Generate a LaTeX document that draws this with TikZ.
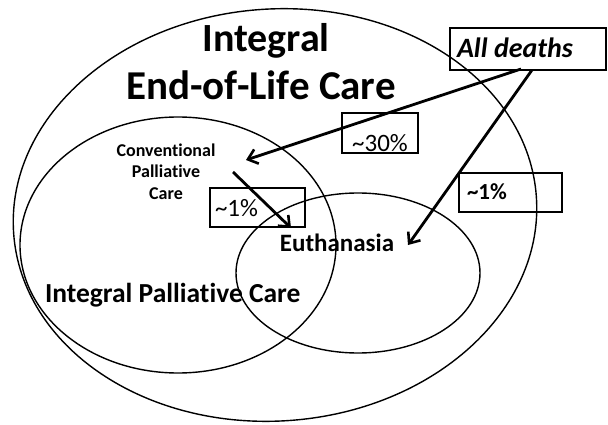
\documentclass[tikz,border=0pt]{standalone}
\usepackage{fontspec}
\setmainfont{Carlito}[Ligatures=NoCommon]
\usetikzlibrary{arrows.meta}
\tikzset{
  ring/.style={draw=black, line width=1.4pt},
  pbox/.style={draw=black, line width=1.3pt, fill=none},
  bigarrow/.style={line width=2.8pt, -{Straight Barb[length=9pt,width=15pt,line width=2.6pt]}},
  txt/.style={inner sep=0pt, outer sep=0pt},
}
\newcommand{\fsz}[2]{\fontsize{#1}{#2}\selectfont}
\begin{document}
\begin{tikzpicture}[x=1pt,y=-1pt]
\useasboundingbox (0,0) rectangle (608,425);
% circles
\draw[ring, rotate around={4:(275,215)}] (275,215) ellipse [x radius=262, y radius=206];
\draw[ring] (178,245) ellipse [x radius=158, y radius=128];
\draw[ring] (358,273) ellipse [x radius=122, y radius=80];
% boxes
\draw[pbox] (450,28) rectangle (606,70);
\draw[pbox] (342,113) rectangle (418,153);
\draw[pbox] (210,188) rectangle (305,227);
\draw[pbox] (459,173) rectangle (562,212);
% texts
\node[txt, anchor=base] (t1) at (266,52) {\fsz{40}{48}\bfseries Integral};
\node[txt, anchor=base] (t2) at (261,100) {\fsz{41}{48}\bfseries End-of-Life Care};
\node[txt, anchor=base west] (ad) at (457,58) {\fsz{28}{32}\bfseries\itshape All deaths};
\node[txt, anchor=base] (p30) at (380,152) {\fsz{25}{30}\selectfont \textasciitilde 30\%};
\node[txt, anchor=base west] (p1a) at (215,216) {\fsz{25}{30}\selectfont \textasciitilde 1\%};
\node[txt, anchor=base west] (p1b) at (467,200) {\fsz{23}{28}\bfseries \textasciitilde 1\%};
\node[txt, anchor=base] (cpc1) at (166,157) {\fsz{18}{21}\bfseries Conventional};
\node[txt, anchor=base] (cpc2) at (166,178) {\fsz{18}{21}\bfseries Palliative};
\node[txt, anchor=base] (cpc3) at (166,200) {\fsz{18}{21}\bfseries Care};
\node[txt, anchor=base] (eu) at (337,251) {\fsz{25}{30}\bfseries Euthanasia};
\node[txt, anchor=base west] (ipc) at (45,302) {\fsz{27.5}{32}\bfseries Integral Palliative Care};
% arrows
\coordinate (a1s) at (521,69);
\coordinate (a1e) at (246,160);
\coordinate (a2s) at (532,70);
\coordinate (a2e) at (408,245);
\coordinate (a3s) at (233,172);
\coordinate (a3e) at (291,228);
\draw[bigarrow] (a1s) -- (a1e);
\draw[bigarrow] (a2s) -- (a2e);
\draw[bigarrow] (a3s) -- (a3e);
\end{tikzpicture}
\end{document}
